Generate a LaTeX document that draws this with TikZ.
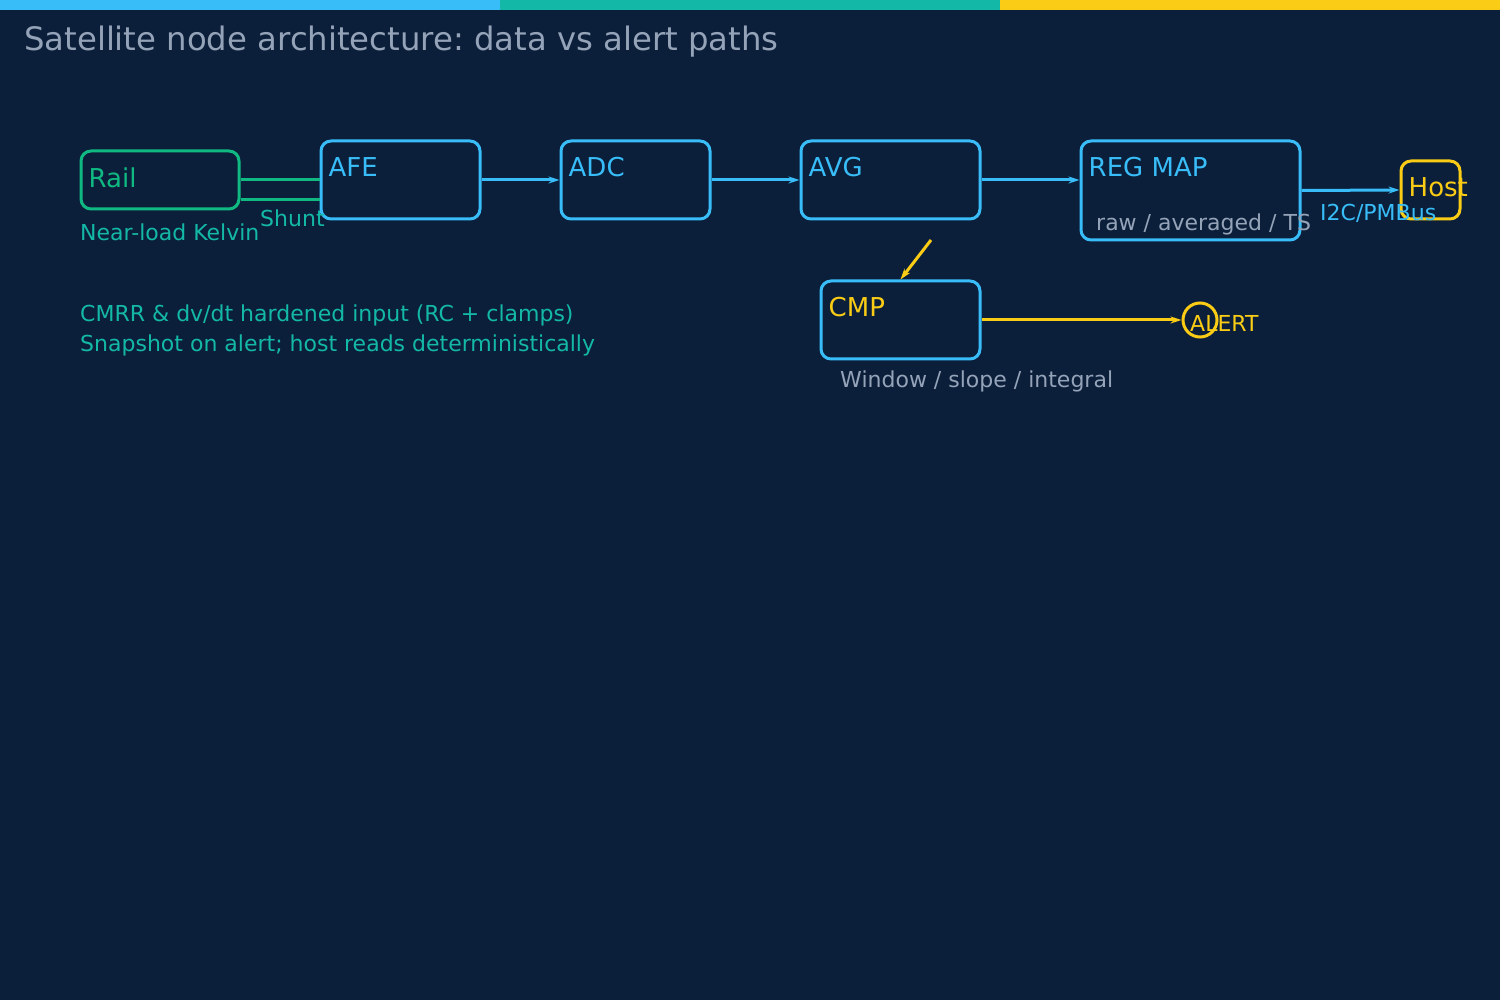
\documentclass[tikz,border=0pt]{standalone}
\usepackage{fontspec}
\setmainfont{DejaVu Sans}
\usetikzlibrary{arrows.meta, positioning, calc}
\definecolor{snbg}{RGB}{11, 31, 58}
\definecolor{snblue}{RGB}{56, 189, 248}
\definecolor{snteal}{RGB}{20, 184, 166}
\definecolor{sngreen}{RGB}{16, 185, 129}
\definecolor{snyellow}{RGB}{250, 204, 21}
\definecolor{sngray}{RGB}{148, 163, 184}
\frenchspacing

\begin{document}
\begin{tikzpicture}[x=1pt, y=-1pt, >={Stealth[length=11pt, width=7pt]},
  box/.style={draw=snblue, line width=3pt, rounded corners=10pt, inner sep=0pt},
  tag/.style={anchor=base west, inner sep=0pt, font=\fontsize{26}{30}\selectfont},
  note/.style={anchor=base west, inner sep=0pt, font=\fontsize{22}{26}\selectfont},
  link/.style={->, line width=3pt, snblue}]

  % --- background and top bars ---
  \useasboundingbox (0,0) rectangle (1500,1000);
  \fill[snbg] (0,0) rectangle (1500,1000);
  \fill[snblue] (0,0) rectangle (500,10);
  \fill[snteal] (500,0) rectangle (1000,10);
  \fill[snyellow] (1000,0) rectangle (1500,10);
  \node[anchor=base west, inner sep=0pt, text=sngray,
        font=\fontsize{32.3}{36}\selectfont] (title) at (24,51)
    {Satellite node architecture: data vs alert paths};

  % --- data chain ---
  \node[box, draw=sngreen, minimum width=158pt, minimum height=58pt] (rail) at (160,180) {};
  \node[box, minimum width=159pt, minimum height=78pt] (afe) at (400.5,180) {};
  \node[box, minimum width=149pt, minimum height=78pt] (adc) at (635.5,180) {};
  \node[box, minimum width=179pt, minimum height=78pt] (avg) at (890.5,180) {};
  \node[box, minimum width=219pt, minimum height=99pt] (reg) at (1190.5,190.5) {};
  \node[box, draw=snyellow, minimum width=59pt, minimum height=58pt] (host) at (1430.5,190) {};
  \node[box, minimum width=159pt, minimum height=78pt] (cmp) at (900.5,320) {};
  \node[circle, draw=snyellow, line width=3pt, minimum size=34pt, inner sep=0pt] (alert) at (1200,320) {};

  % --- box titles ---
  \node[tag, text=sngreen] (railtxt) at ([xshift=9pt, yshift=-38pt]rail.north west) {Rail};
  \node[tag, text=snblue] (afetxt) at ([xshift=9pt, yshift=-37pt]afe.north west) {AFE};
  \node[tag, text=snblue] (adctxt) at ([xshift=9pt, yshift=-37pt]adc.north west) {ADC};
  \node[tag, text=snblue] (avgtxt) at ([xshift=9pt, yshift=-37pt]avg.north west) {AVG};
  \node[tag, text=snblue] (regtxt) at ([xshift=9pt, yshift=-37pt]reg.north west) {REG MAP};
  \node[tag, text=snyellow] (hosttxt) at ([xshift=9pt, yshift=-37pt]host.north west) {Host};
  \node[tag, text=snyellow] (cmptxt) at ([xshift=9pt, yshift=-37pt]cmp.north west) {CMP};

  % --- Kelvin sense pair ---
  \draw[sngreen, line width=3pt] (rail.east) -- (rail.east -| afe.west);
  \draw[sngreen, line width=3pt] ([yshift=-20pt]rail.east) -- ([yshift=-20pt]rail.east -| afe.west);
  \node[note, text=snteal] (shunt) at (260,227) {Shunt};
  \node[note, text=snteal] (kelvin) at (80,241) {Near-load Kelvin};

  % --- data arrows ---
  \draw[link] (afe) -- (adc);
  \draw[link] (adc) -- (avg);
  \draw[link] (avg.east) -- (avg.east -| reg.west);
  \draw[link] (reg.east) -- (host.west);
  \node[note, text=snblue] (bus) at (1320,221) {I2C/PMBus};
  \node[note, text=sngray] (regnote) at (1096,231) {raw / averaged / TS};

  % --- alert path ---
  \coordinate (tap) at (931,240);
  \draw[link, snyellow] (tap) -- (cmp.north);
  \draw[link, snyellow] (cmp.east) -- (alert.west);
  \node[note, text=snyellow] (alerttxt) at (1190,332) {ALERT};
  \node[note, text=sngray] (cmpnote) at (840,388) {Window / slope / integral};

  % --- notes ---
  \node[note, text=snteal] (cmrr) at (80,322) {CMRR \& dv/dt hardened input (RC + clamps)};
  \node[note, text=snteal] (snap) at (80,352) {Snapshot on alert; host reads deterministically};

\end{tikzpicture}
\end{document}
